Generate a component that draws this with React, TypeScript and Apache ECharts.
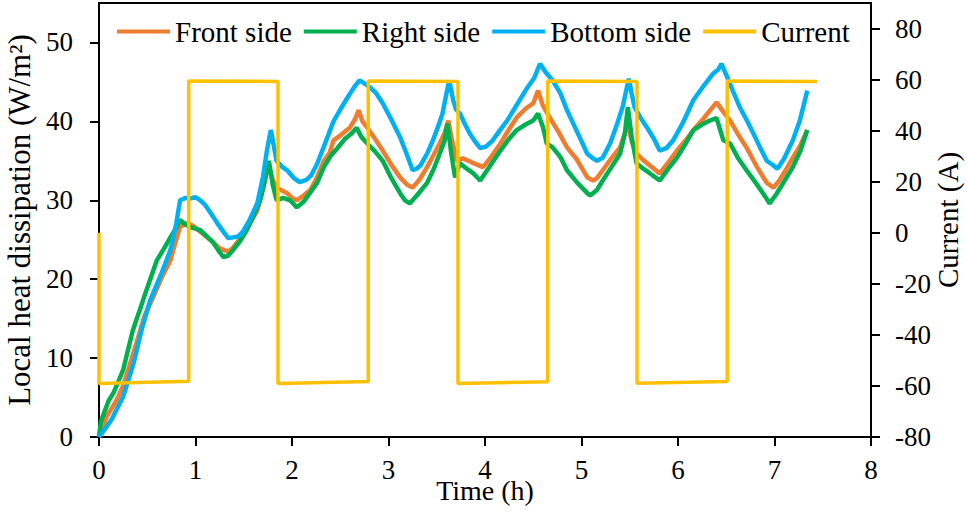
import React, { useEffect, useRef } from "react";
import * as echarts from "echarts";

// Time (h), heat dissipation (W/m²)
const frontSide: number[][] = [
  [0, 0], [0.08, 2.6], [0.18, 4.6], [0.25, 6.5], [0.32, 9.2], [0.39, 12], [0.47, 15.3], [0.56, 17.7],
  [0.65, 20.2], [0.74, 22.4], [0.8, 25], [0.84, 26.6], [0.91, 27.1], [0.97, 26.8], [1.05, 26],
  [1.12, 25.3], [1.18, 24.7], [1.24, 24], [1.29, 23.7], [1.34, 23.5], [1.39, 24], [1.44, 24.8],
  [1.49, 25.8], [1.56, 27], [1.64, 28.7], [1.7, 31.5], [1.75, 34.7], [1.8, 32.6], [1.84, 31.6],
  [1.9, 31.2], [1.95, 30.9], [2.0, 30.3], [2.05, 30], [2.12, 30.6], [2.19, 31.3], [2.26, 32.9],
  [2.33, 35], [2.39, 36], [2.43, 37.6], [2.5, 38.2], [2.56, 38.8], [2.6, 39.2], [2.65, 40.2],
  [2.69, 41.4], [2.73, 40], [2.78, 39.2], [2.86, 37.8], [2.94, 36.3], [3.03, 34.5], [3.12, 32.9],
  [3.19, 32], [3.25, 31.6], [3.32, 32.6], [3.4, 34.2], [3.47, 35.8], [3.53, 37.2], [3.58, 38.5],
  [3.62, 40.1], [3.66, 37.5], [3.71, 35], [3.77, 35.3], [3.83, 35], [3.88, 34.7], [3.98, 34.2],
  [4.07, 35.6], [4.16, 37.2], [4.25, 39], [4.33, 40.5], [4.42, 41.6], [4.5, 42.3], [4.55, 43.9],
  [4.6, 42], [4.67, 40.5], [4.76, 38.7], [4.85, 36.7], [4.95, 35.2], [5.06, 32.9], [5.12, 32.5],
  [5.16, 32.8], [5.22, 33.8], [5.31, 35.3], [5.4, 36.7], [5.45, 38.5], [5.48, 39.7], [5.52, 37.5],
  [5.57, 35.9], [5.63, 35.2], [5.68, 34.7], [5.75, 34], [5.81, 33.4], [5.9, 34.8], [5.99, 36.3],
  [6.08, 37.6], [6.16, 38.9], [6.26, 40.3], [6.36, 41.8], [6.4, 42.4], [6.47, 41.2], [6.54, 40.1],
  [6.62, 38.4], [6.71, 36.7], [6.81, 34.4], [6.92, 32.2], [6.99, 31.6], [7.05, 32.5], [7.12, 33.9],
  [7.19, 35.4], [7.27, 37], [7.34, 38.9],
];

const rightSide: number[][] = [
  [0, 0], [0.02, 2], [0.045, 2.8], [0.1, 4.6], [0.15, 5.6], [0.2, 7], [0.25, 8.5], [0.3, 11],
  [0.35, 13.5], [0.42, 16], [0.48, 18.2], [0.54, 20.3], [0.6, 22.4], [0.67, 23.8], [0.74, 25.3],
  [0.8, 26.5], [0.84, 27.5], [0.89, 27], [0.94, 26.6], [1.0, 26.4], [1.05, 26.2], [1.12, 25.4],
  [1.18, 24.7], [1.24, 23.6], [1.29, 22.8], [1.34, 23], [1.39, 23.7], [1.46, 24.8], [1.53, 26.2],
  [1.6, 28], [1.67, 30], [1.72, 32.5], [1.76, 35], [1.8, 32], [1.84, 30], [1.91, 30.3], [1.98, 30],
  [2.05, 29.1], [2.12, 29.8], [2.19, 31], [2.26, 32.2], [2.33, 34.2], [2.4, 35.6], [2.47, 36.6],
  [2.55, 37.8], [2.62, 38.5], [2.67, 39.2], [2.72, 38], [2.78, 37.2], [2.86, 36.2], [2.94, 35],
  [3.03, 32.8], [3.12, 30.9], [3.17, 30], [3.22, 29.6], [3.3, 30.7], [3.4, 32.2], [3.47, 34],
  [3.53, 35.9], [3.58, 37.5], [3.61, 39.7], [3.65, 36], [3.69, 32.9], [3.74, 34.7], [3.81, 34],
  [3.88, 33.4], [3.95, 32.5], [4.05, 34.3], [4.16, 36.3], [4.25, 37.8], [4.33, 38.9], [4.42, 39.6],
  [4.5, 40.1], [4.55, 41], [4.6, 39.3], [4.64, 37.2], [4.7, 36.7], [4.78, 35.5], [4.85, 33.8],
  [4.95, 32.3], [5.06, 30.9], [5.09, 30.6], [5.16, 31.3], [5.22, 32.5], [5.31, 34.2], [5.4, 35.9],
  [5.45, 38.5], [5.48, 41.8], [5.52, 38], [5.57, 34.7], [5.64, 34], [5.71, 33.4], [5.81, 32.5],
  [5.9, 34], [5.99, 35.4], [6.08, 37.2], [6.16, 38.9], [6.25, 39.6], [6.33, 40.1], [6.4, 40.4],
  [6.47, 37.6], [6.54, 37.2], [6.62, 35.4], [6.71, 33.8], [6.8, 32.3], [6.88, 30.9], [6.95, 29.6],
  [7.02, 30.8], [7.1, 32.4], [7.19, 34.2], [7.27, 36.3], [7.34, 38.9],
];

const bottomSide: number[][] = [
  [0, 0], [0.05, 0.8], [0.13, 2.2], [0.25, 5.1], [0.36, 9.4], [0.44, 13.5], [0.53, 17.3],
  [0.64, 20.5], [0.74, 23.7], [0.8, 27], [0.84, 30], [0.9, 30.3], [0.94, 30.2], [1.0, 30.4],
  [1.05, 30], [1.1, 29.4], [1.15, 28.5], [1.22, 27.2], [1.29, 26], [1.34, 25.2], [1.39, 25.3],
  [1.44, 25.4], [1.49, 26], [1.56, 27.5], [1.64, 29.6], [1.7, 33], [1.74, 36.3], [1.78, 38.9],
  [1.81, 37], [1.84, 35], [1.9, 34.2], [1.95, 33.8], [2.02, 32.8], [2.08, 32.3], [2.15, 32.6],
  [2.2, 33.2], [2.26, 34.6], [2.33, 36.8], [2.43, 40], [2.5, 41.5], [2.6, 43.5], [2.66, 44.6],
  [2.7, 45.2], [2.75, 44.8], [2.81, 44.3], [2.87, 43.6], [2.94, 42.3], [3.03, 40.2], [3.12, 38],
  [3.19, 35.8], [3.25, 33.8], [3.29, 34], [3.33, 34.4], [3.4, 35.9], [3.46, 37.6], [3.51, 39.2],
  [3.56, 41], [3.6, 43.5], [3.63, 45.2], [3.67, 42.7], [3.7, 41.5], [3.74, 41], [3.79, 39.7],
  [3.84, 38.5], [3.9, 37.4], [3.95, 36.6], [4.01, 36.8], [4.08, 37.6], [4.15, 38.8], [4.23, 40.1],
  [4.33, 42.1], [4.44, 44.3], [4.51, 45.5], [4.57, 47.3], [4.63, 46.2], [4.7, 45.2], [4.78, 43.6],
  [4.85, 41.4], [4.95, 38.8], [5.06, 35.9], [5.12, 35.3], [5.16, 35], [5.22, 35.4], [5.3, 37.3],
  [5.37, 39.7], [5.43, 42], [5.47, 44.3], [5.49, 45.4], [5.52, 43.5], [5.55, 41.8], [5.61, 40.5],
  [5.68, 39.2], [5.75, 37.8], [5.81, 36.3], [5.88, 36.6], [5.95, 37.6], [6.05, 39.8], [6.16, 42.7],
  [6.26, 44.4], [6.36, 46], [6.42, 46.6], [6.45, 47.3], [6.51, 45.6], [6.57, 43.8], [6.64, 41.8],
  [6.71, 40.2], [6.78, 38.5], [6.85, 36.7], [6.92, 35], [6.98, 34.5], [7.03, 34], [7.1, 35.3],
  [7.19, 37.6], [7.26, 40], [7.34, 43.9],
];

// Time (h), current (A)
const current: number[][] = [
  [0, 0], [0, -59], [0.93, -58.2], [0.93, 59.4], [1.855, 59.3], [1.855, -59], [2.79, -58.3],
  [2.79, 59.4], [3.72, 59.3], [3.72, -59], [4.65, -58.4], [4.65, 59.4], [5.575, 59.3],
  [5.575, -58.9], [6.51, -58.3], [6.51, 59.4], [7.44, 59.3],
];

const seriesNames = ["Front side", "Right side", "Bottom side", "Current"];
const seriesColors = ["#ED7D31", "#00B050", "#00B0F0", "#FFC000"];
const leftTicks = [0, 10, 20, 30, 40, 50];
const rightTicks = [-80, -60, -40, -20, 0, 20, 40, 60, 80];

const FONT = "Liberation Serif";

export default function App() {
  const ref = useRef<HTMLDivElement>(null);
  useEffect(() => {
    if (!ref.current) return;
    const chart = echarts.init(ref.current, undefined, { renderer: "svg" });
    const axisLine = { show: true, onZero: false, lineStyle: { color: "#000", width: 2 } };
    const axisTick = { show: true, inside: false, length: 9, lineStyle: { color: "#000", width: 2 } };
    const dataSeries = [frontSide, rightSide, bottomSide].map((d, i) => ({
      name: seriesNames[i],
      type: "line",
      data: d,
      yAxisIndex: 0,
      showSymbol: false,
      symbol: "none",
      lineStyle: { color: seriesColors[i], width: 4.5 },
      itemStyle: { color: seriesColors[i] },
      z: 2 + i,
    }));
    chart.setOption({
      animation: false,
      textStyle: { fontFamily: FONT, color: "#000" },
      grid: {
        left: 99, right: 96, top: 3, bottom: 75,
        containLabel: false, outerBoundsMode: "none",
        show: true, borderColor: "#000", borderWidth: 2,
      },
      legend: {
        data: seriesNames,
        left: 117,
        top: 17,
        padding: 0,
        itemGap: 12,
        itemWidth: 53,
        itemHeight: 4,
        icon: "rect",
        textStyle: { fontFamily: FONT, fontSize: 29, color: "#000" },
      },
      xAxis: {
        type: "value",
        min: 0,
        max: 8,
        interval: 1,
        name: "Time (h)",
        nameLocation: "middle",
        nameGap: 39,
        nameMoveOverlap: false,
        nameTextStyle: { fontFamily: FONT, fontSize: 28, color: "#000" },
        axisLine,
        axisTick,
        splitLine: { show: false },
        axisLabel: { fontFamily: FONT, fontSize: 27, color: "#000", margin: 19 },
      },
      yAxis: [
        {
          type: "value",
          position: "left",
          min: 0,
          max: 55,
          interval: 10,
          name: "Local heat dissipation (W/m²)",
          nameLocation: "middle",
          nameGap: 64,
          nameMoveOverlap: false,
          nameTextStyle: { fontFamily: FONT, fontSize: 31, color: "#000" },
          axisLine,
          axisTick: { ...axisTick, customValues: leftTicks },
          splitLine: { show: false },
          axisLabel: { fontFamily: FONT, fontSize: 27, color: "#000", margin: 26, customValues: leftTicks },
        },
        {
          type: "value",
          position: "right",
          min: -80,
          max: 90,
          interval: 20,
          name: "Current (A)",
          nameLocation: "middle",
          nameGap: 62,
          nameMoveOverlap: false,
          nameTextStyle: { fontFamily: FONT, fontSize: 29, color: "#000" },
          axisLine,
          axisTick: { ...axisTick, customValues: rightTicks },
          splitLine: { show: false },
          axisLabel: { fontFamily: FONT, fontSize: 27, color: "#000", margin: 24, customValues: rightTicks },
        },
      ],
      series: [
        ...dataSeries,
        {
          name: seriesNames[3],
          type: "line",
          data: current,
          yAxisIndex: 1,
          showSymbol: false,
          symbol: "none",
          lineStyle: { color: seriesColors[3], width: 3.5 },
          itemStyle: { color: seriesColors[3] },
          z: 6,
        },
      ],
    });
    return () => chart.dispose();
  }, []);
  return (
    <div
      ref={ref}
      style={{ position: "fixed", left: 0, top: 0, width: 967, height: 512, background: "#fff" }}
    />
  );
}
